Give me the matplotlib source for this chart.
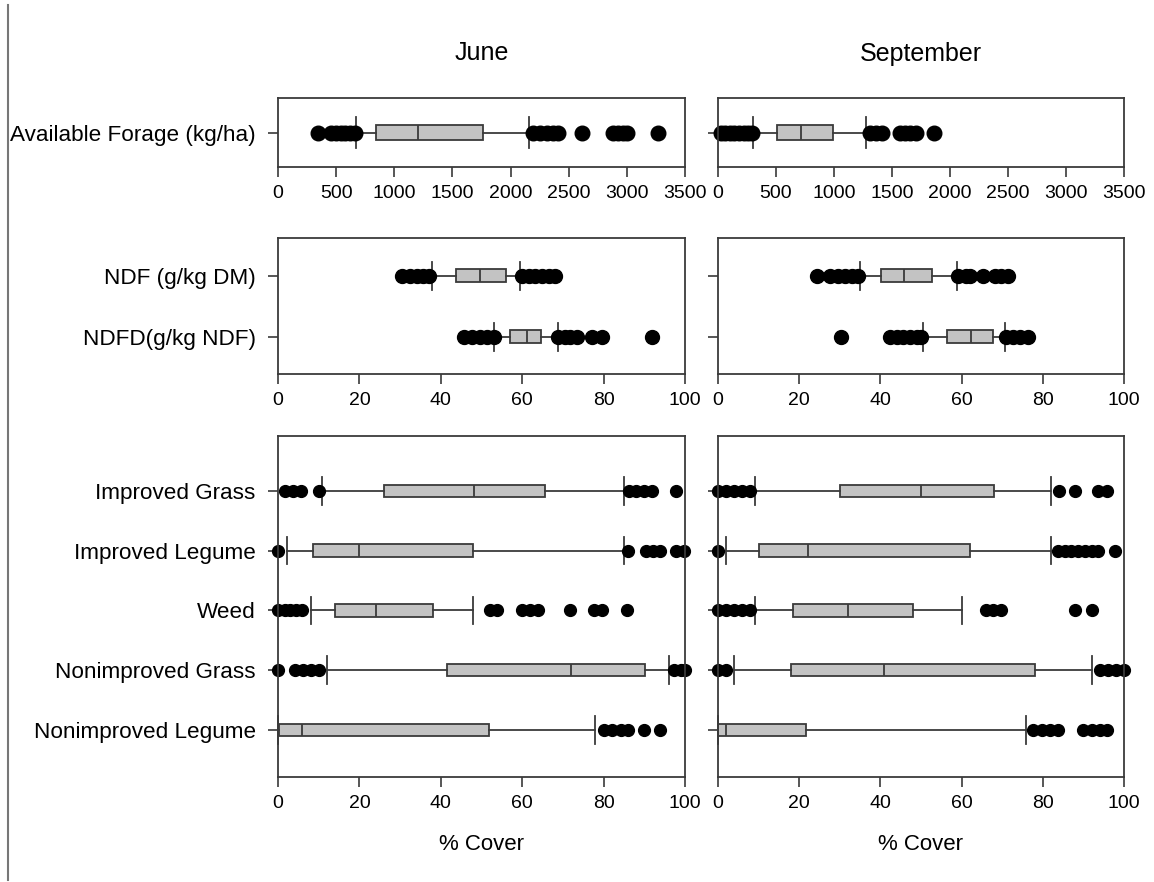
import matplotlib
matplotlib.use("Agg")
import matplotlib.pyplot as plt
from matplotlib.lines import Line2D

plt.rcParams['font.family'] = ['Liberation Sans', 'DejaVu Sans']

# --- Available forage (kg/ha) ---
forage_label = ["Available Forage (kg/ha)"]
forage_jun = [846, 1208, 1767, 668, 2157]   # q1, med, q3, whislo, whishi
forage_jun_fliers = [345, 460, 500, 540, 580, 620, 660,
                     2195, 2252, 2310, 2361, 2410, 2617, 2883, 2926, 2970, 2998, 3265]
forage_sep = [511, 712, 993, 299, 1280]
forage_sep_fliers = [30, 60, 100, 140, 180, 220, 260, 290,
                     1309, 1366, 1410, 1567, 1610, 1654, 1711, 1863]

# --- fibre (rows from top to bottom) ---
fibre_labels = ["NDF (g/kg DM)", "NDFD(g/kg NDF)"]
fibre_jun = [[43.8, 49.6, 55.9, 37.8, 59.5],
             [57.1, 61.3, 64.7, 53.0, 68.7]]
fibre_jun_fliers = [[30.5, 32.4, 34.1, 35.7, 37.2, 59.9, 61.6, 63.2, 64.9, 66.5, 68.1],
                    [45.7, 47.6, 49.7, 51.3, 53.0, 68.7, 70.4, 71.8, 73.5, 77.2, 79.6, 92.0]]
fibre_sep = [[40.1, 45.7, 52.7, 34.9, 58.8],
             [56.4, 62.3, 67.7, 50.4, 70.7]]
fibre_sep_fliers = [[24.3, 27.6, 29.6, 31.2, 32.9, 34.5, 59.1, 61.2, 62.0, 65.3, 68.2, 69.8, 71.4],
                    [30.4, 42.3, 44.0, 45.6, 47.2, 48.9, 50.1, 71.0, 72.7, 74.3, 76.4]]

# --- % cover (rows from top to bottom) ---
cover_labels = ["Improved Grass", "Improved Legume", "Weed",
                "Nonimproved Grass", "Nonimproved Legume"]
cover_jun = [[26.0, 48.1, 65.6, 10.9, 85.0],
             [8.5, 19.9, 48.0, 2.1, 85.0],
             [14.0, 24.1, 38.1, 8.0, 48.0],
             [41.5, 72.1, 90.1, 12.1, 96.1],
             [0.2, 5.9, 51.9, 0.0, 77.8]]
cover_jun_fliers = [[1.6, 3.7, 5.7, 10.0, 86.2, 88.0, 89.9, 91.9, 97.9],
                    [0.0, 86.0, 90.3, 92.2, 93.8, 97.9, 99.8],
                    [0.0, 1.6, 3.0, 4.5, 6.0, 52.1, 53.8, 59.9, 62.0, 64.0, 71.8, 77.6, 79.6, 85.8],
                    [0.0, 4.1, 6.2, 8.2, 10.1, 97.3, 98.9, 100.0],
                    [80.0, 82.1, 84.2, 86.0, 89.9, 93.8]]
cover_sep = [[30.0, 50.0, 68.1, 9.1, 81.9],
             [10.1, 22.1, 62.0, 2.0, 81.9],
             [18.5, 32.1, 48.0, 9.1, 60.0],
             [18.0, 40.9, 78.0, 3.9, 92.0],
             [0.0, 2.0, 21.6, 0.0, 75.8]]
cover_sep_fliers = [[0.1, 2.0, 3.9, 6.0, 7.9, 83.9, 87.9, 93.6, 95.7],
                    [0.0, 83.8, 85.4, 87.0, 88.7, 90.3, 92.0, 93.6, 97.9],
                    [0.1, 2.0, 3.9, 6.0, 7.9, 66.1, 67.8, 69.8, 87.9, 92.0],
                    [0.0, 2.0, 94.0, 96.1, 98.1, 100.0],
                    [77.6, 79.7, 81.7, 83.8, 89.9, 92.0, 94.0, 95.8]]

EDGE = '#3a3a3a'
FILL = '#c3c3c3'


def make_stats(rows, fliers):
    out = []
    for (q1, med, q3, lo, hi), fl in zip(rows, fliers):
        out.append(dict(q1=q1, med=med, q3=q3, whislo=lo, whishi=hi, fliers=fl))
    return out


def draw_panel(ax, rows, fliers, labels, xmax, step, ylim, msize, show_labels):
    stats = make_stats(rows, fliers)
    n = len(stats)
    positions = list(range(n, 0, -1))
    art = ax.bxp(stats, positions=positions, widths=0.21, capwidths=0.46,
                 orientation='horizontal', patch_artist=True,
                 boxprops=dict(facecolor=FILL, edgecolor=EDGE, linewidth=1.3),
                 medianprops=dict(color=EDGE, linewidth=1.3),
                 whiskerprops=dict(color=EDGE, linewidth=1.3),
                 capprops=dict(color=EDGE, linewidth=1.3),
                 flierprops=dict(marker='o', markerfacecolor='black',
                                 markeredgecolor='black', markersize=msize))
    for group in art.values():
        for a in group:
            a.set_clip_on(False)
    ax.set_xlim(0, xmax)
    ax.set_xticks(range(0, xmax + 1, step))
    ax.set_ylim(*ylim)
    ax.set_yticks(positions)
    if show_labels:
        ax.set_yticklabels(labels)
    else:
        ax.set_yticklabels([])
    ax.tick_params(axis='both', direction='out', length=7, width=1.2,
                   color=EDGE, pad=6)
    ax.tick_params(axis='x', labelsize=14)
    ax.tick_params(axis='y', labelsize=16.2, pad=9)
    for s in ax.spines.values():
        s.set_color(EDGE)
        s.set_linewidth(1.3)


fig = plt.figure(figsize=(11.54, 8.82), dpi=100)
W, H = 1154, 882


def add_ax(x0, x1, y0, y1):
    return fig.add_axes([x0 / W, 1 - y1 / H, (x1 - x0) / W, (y1 - y0) / H])


cols = [(278, 685), (718, 1124)]
top = (98, 167)
mid = (238, 374)
bot = (436, 777)

# June column
ax = add_ax(*cols[0], *top)
draw_panel(ax, [forage_jun], [forage_jun_fliers], forage_label, 3500, 500,
           (0.5, 1.5), 10.5, True)
ax.set_title("June", fontsize=18, pad=27)
ax = add_ax(*cols[0], *mid)
draw_panel(ax, fibre_jun, fibre_jun_fliers, fibre_labels, 100, 20,
           (0.39, 2.62), 10, True)
ax = add_ax(*cols[0], *bot)
draw_panel(ax, cover_jun, cover_jun_fliers, cover_labels, 100, 20,
           (0.21, 5.92), 8.5, True)
ax.set_xlabel("% Cover", fontsize=16, labelpad=16)

# September column
ax = add_ax(*cols[1], *top)
draw_panel(ax, [forage_sep], [forage_sep_fliers], forage_label, 3500, 500,
           (0.5, 1.5), 10.5, False)
ax.set_title("September", fontsize=18, pad=27)
ax = add_ax(*cols[1], *mid)
draw_panel(ax, fibre_sep, fibre_sep_fliers, fibre_labels, 100, 20,
           (0.39, 2.62), 10, False)
ax = add_ax(*cols[1], *bot)
draw_panel(ax, cover_sep, cover_sep_fliers, cover_labels, 100, 20,
           (0.21, 5.92), 8.5, False)
ax.set_xlabel("% Cover", fontsize=16, labelpad=16)

# thin frame line on the left edge of the page
fig.add_artist(Line2D([8 / W, 8 / W], [1 - 5 / H, 1 - 880 / H],
                      color='#777777', linewidth=1.5))

fig.savefig("out.png", dpi=100)
